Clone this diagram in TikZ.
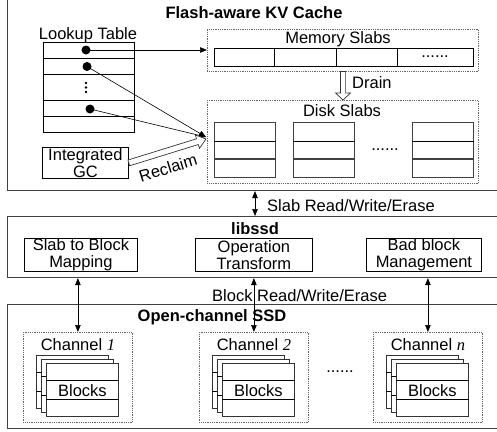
\documentclass[tikz,border=0pt]{standalone}
\usepackage{fontspec}
\setmainfont{Liberation Sans}
\newfontfamily\numfont{Liberation Serif}
\usetikzlibrary{arrows.meta,calc}

% hollow block arrow: start, end, shaft half width, head half width, head length
\newcommand\hollowarrow[5]{%
  \coordinate (ha-base) at ($(#2)!#5!(#1)$);
  \draw[hollow] ($(#1)!#3!90:(#2)$) -- ($(ha-base)!#3!90:(#2)$)
    -- ($(ha-base)!#4!90:(#2)$) -- (#2) -- ($(ha-base)!#4!-90:(#2)$)
    -- ($(ha-base)!#3!-90:(#2)$) -- ($(#1)!#3!-90:(#2)$) -- cycle;
}

% stacked block rectangles of one channel: name, x, y of the front one
\newcommand\blockstack[3]{%
  \foreach \k/\s in {b2/10, b1/5, f/0} {
    \node[stackrect] (#1-\k) at (#2-\s, #3-0.8*\s) {};
    \draw[rowline] ($(#1-\k.north west)+(0,17)$) -- ($(#1-\k.north east)+(0,17)$);
    \draw[rowline] ($(#1-\k.north west)+(0,36)$) -- ($(#1-\k.north east)+(0,36)$);
  }
  \node[anchor=base] (#1-t) at ($(#1-f.north)+(0,33)$) {Blocks};
}

% italic channel index
\newcommand\chidx[1]{{\numfont\itshape #1}}

\begin{document}
\begin{tikzpicture}[x=1pt,y=-1pt,
  every node/.style={font=\fontsize{16.5}{16.5}\selectfont, inner sep=0pt},
  title/.style={font=\fontsize{16.5}{16.5}\selectfont\bfseries},
  frame/.style={draw=black!75, line width=1.1pt, anchor=north west},
  dotbox/.style={draw=black!60, dash pattern=on 0.9pt off 0.9pt, line width=0.8pt, anchor=north west},
  box/.style={draw, line width=0.8pt, align=center, anchor=north west},
  rowline/.style={line width=0.8pt},
  stackrect/.style={draw=black!80, line width=0.8pt, fill=white, anchor=north west,
    minimum width=72pt, minimum height=53pt},
  slab/.style={draw=black!75, line width=0.9pt, anchor=north west,
    minimum width=61pt, minimum height=55pt},
  conn/.style={line width=0.6pt, -{Triangle[length=7pt,width=5.5pt]}},
  biconn/.style={line width=0.6pt, {Triangle[length=7pt,width=5.5pt]}-{Triangle[length=7pt,width=5.5pt]}},
  dot/.style={circle, fill, minimum size=9pt},
  hollow/.style={draw=black!80, line width=0.7pt, fill=white}
]
\useasboundingbox (0,0) rectangle (497,431);
\clip (0,0) rectangle (497,431);

% three layers
\node[frame, minimum width=503pt, minimum height=195pt] (kv) at (7,-5) {};
\node[frame, minimum width=503pt, minimum height=61pt] (lib) at (7,216) {};
\node[frame, minimum width=503pt, minimum height=124pt] (ssd) at (7,304) {};

% ---------- Flash-aware KV Cache ----------
\node[title, anchor=base] (kvt) at (254,18) {Flash-aware KV Cache};

% lookup table
\node[anchor=base] (ltt) at (88,39) {Lookup Table};
\node[box, minimum width=91pt, minimum height=90pt] (lt) at (43,42) {};
\foreach \y in {58,74,100,116} \draw[rowline] (43,\y) -- (134,\y);
\node[dot] (d1) at (86,50) {};
\node[dot] (d2) at (87,66.5) {};
\node[dot] (d4) at (90,109) {};
\foreach \y in {83,87.5,92} \fill (86,\y) circle (1.3pt);

% integrated GC
\node[box, minimum width=86pt, minimum height=31pt] (gc) at (42,147) {Integrated\\GC};

% memory slabs
\node[dotbox, minimum width=271pt, minimum height=42pt] (mem) at (207,29) {};
\node[anchor=base] (memt) at (338,43) {Memory Slabs};
\node[box, minimum width=259pt, minimum height=18pt] (mcells) at (214,48) {};
\foreach \x in {274,336,397} \draw[rowline] (\x,48) -- (\x,66);
\node (mdots) at (435,57) {......};

% disk slabs
\node[dotbox, minimum width=271pt, minimum height=83pt] (disk) at (207,100) {};
\node[anchor=base] (diskt) at (342,116) {Disk Slabs};
\foreach \x/\n in {214/s1,293/s2,412/s3} {
  \node[slab] (\n) at (\x,122) {};
  \draw[line width=0.7pt] ($(\n.north west)+(0,19)$) -- ($(\n.north east)+(0,19)$);
  \draw[line width=1.3pt, black!75] ($(\n.north west)+(0,37)$) -- ($(\n.north east)+(0,37)$);
}
\node (ddots) at (385,150) {......};

% pointers from the lookup table
\coordinate (ds) at (206,137);
\draw[conn] (d1.center) -- (d1.center -| mem.west);
\draw[conn] (d2.center) -- (ds);
\draw[conn] (d4.center) -- (ds);

% drain and reclaim
\coordinate (dra) at (343,71.5);
\coordinate (drb) at (343,100);
\hollowarrow{dra}{drb}{2.6pt}{7.5pt}{7pt}
\node[anchor=base west] (drt) at (352,88) {Drain};

\coordinate (rt) at (206,139);
\hollowarrow{gc.east}{rt}{3pt}{7pt}{9pt}
\node[rotate=17] (rcl) at (168,168) {Reclaim};

% ---------- libssd ----------
\node[title, anchor=base] (libt) at (255,234) {libssd};
\draw[biconn] (libt |- kv.south) -- (libt |- lib.north);
\node[anchor=base west] (srw) at (267,211) {Slab Read/Write/Erase};

\node[box, minimum width=113pt, minimum height=33pt] (m1) at (24,238) {Slab to Block\\Mapping};
\node[box, minimum width=117pt, minimum height=33pt] (m2) at (195,238) {Operation\\Transform};
\node[box, minimum width=115pt, minimum height=33pt] (m3) at (366,238) {Bad block\\Management};

% ---------- Open-channel SSD ----------
\node[title, anchor=base] (ssdt) at (212,321) {Open-channel SSD};

\node[dotbox, minimum width=109pt, minimum height=90pt] (c1) at (23,332) {};
\node[dotbox, minimum width=109pt, minimum height=90pt] (c2) at (199,332) {};
\node[dotbox, minimum width=109pt, minimum height=90pt] (cn) at (373,332) {};
\node[anchor=base] (c1t) at (c1.north |- 0,350) {Channel \chidx{1}};
\node[anchor=base] (c2t) at (c2.north |- 0,350) {Channel \chidx{2}};
\node[anchor=base] (cnt) at (cn.north |- 0,350) {Channel \chidx{n}};

\blockstack{k1}{46}{363}
\blockstack{k2}{222}{363}
\blockstack{kn}{396}{363}
\node (cdots) at (340,372) {......};

% block operations between libssd and the channels
\draw[biconn] (c1.north |- lib.south) -- (c1.north);
\draw[biconn] (c2.north |- lib.south) -- (c2.north);
\draw[biconn] (cn.north |- lib.south) -- (cn.north);
\node[anchor=base west] (brw) at (212,301) {Block Read/Write/Erase};
\end{tikzpicture}
\end{document}
